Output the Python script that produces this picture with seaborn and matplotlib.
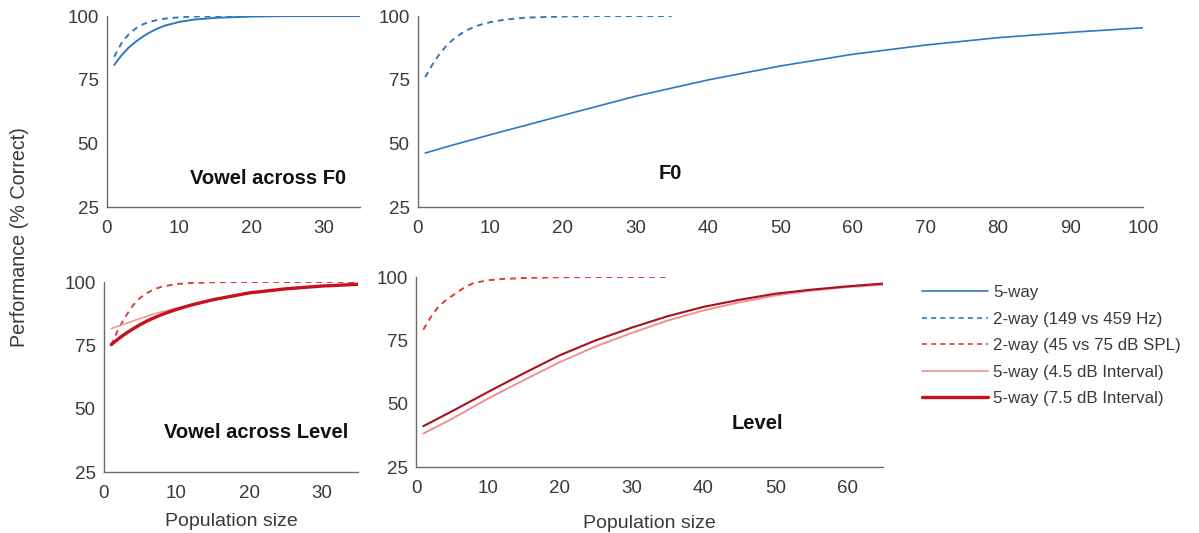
import numpy as np
import pandas as pd
import matplotlib
matplotlib.use("Agg")
import matplotlib.pyplot as plt
import seaborn as sns
from matplotlib.lines import Line2D

sns.set_style("white")
plt.rcParams['font.family'] = ['Liberation Sans', 'DejaVu Sans']

# ---------------- data ----------------
# Panel: Vowel across F0
vf0_x = [1, 2, 3, 4, 5, 6, 7, 8, 10, 12, 15, 20, 25, 30, 35]
vf0_5way = [80.8, 84.5, 87.6, 90.0, 92.0, 93.7, 95.1, 96.2, 97.7, 98.6, 99.3, 99.8, 100, 100, 100]
vf0_2way = [84.0, 89.3, 92.8, 95.2, 96.8, 97.8, 98.5, 99.0, 99.5, 99.8, 99.9, 100, 100, 100, 100]

# Panel: F0
f0_x = [1, 5, 10, 20, 30, 40, 50, 60, 70, 80, 90, 100]
f0_5way = [46.2, 49.5, 53.4, 61.0, 68.5, 74.9, 80.4, 85.0, 88.6, 91.5, 93.6, 95.4]
f0_2x = [1, 2, 3, 4, 5, 6, 7, 8, 9, 10, 12, 15, 20, 25, 30, 35]
f0_2way = [76.0, 81.0, 85.2, 88.6, 91.2, 93.2, 94.8, 96.0, 96.9, 97.6, 98.6, 99.4, 99.8, 100, 100, 100]

# Panel: Vowel across Level
vl_x = [1, 2, 3, 4, 5, 6, 7, 8, 10, 12, 15, 20, 25, 30, 35]
vl_2way = [75.0, 81.5, 86.5, 90.8, 93.8, 95.8, 97.2, 98.2, 99.2, 99.6, 99.9, 100, 100, 100, 100]
vl_45db = [81.6, 82.6, 83.6, 84.6, 85.6, 86.6, 87.5, 88.3, 89.6, 91.0, 93.0, 95.6, 97.3, 98.4, 99.0]
vl_75db = [75.3, 77.6, 79.7, 81.5, 83.2, 84.7, 86.0, 87.2, 89.2, 90.9, 93.0, 95.7, 97.3, 98.4, 99.1]

# Panel: Level
lv_x = [1, 5, 10, 15, 20, 25, 30, 35, 40, 45, 50, 55, 60, 65]
lv_75db = [41.1, 47.0, 54.6, 62.0, 69.1, 75.0, 80.0, 84.5, 88.2, 91.0, 93.4, 95.0, 96.3, 97.4]
lv_45db = [38.2, 44.0, 52.0, 59.3, 66.4, 72.6, 77.9, 82.8, 86.8, 90.0, 92.7, 94.6, 96.0, 96.9]
lv_2x = [1, 2, 3, 4, 5, 6, 7, 8, 10, 12, 15, 20, 25, 30, 35]
lv_2way = [79.2, 84.0, 87.8, 90.5, 92.5, 94.5, 96.3, 97.6, 98.7, 99.2, 99.6, 99.9, 100, 100, 100]

legend_labels = ["5-way", "2-way (149 vs 459 Hz)", "2-way (45 vs 75 dB SPL)",
                 "5-way (4.5 dB Interval)", "5-way (7.5 dB Interval)"]

# ---------------- styles ----------------
BLUE = "#2f78bf"
RED_D = "#e03a3a"
RED_L = "#f09090"
RED_T = "#c8101e"
RED_DK = "#a8101e"
AX_COL = "#6b6b6b"
TXT_COL = "#3a3a3a"

fig = plt.figure(figsize=(11.99, 5.33), dpi=100)

ax1 = fig.add_axes([0.0892, 0.6116, 0.2111, 0.3583])
ax2 = fig.add_axes([0.3486, 0.6116, 0.6047, 0.3583])
ax3 = fig.add_axes([0.0867, 0.1144, 0.2119, 0.3565])
ax4 = fig.add_axes([0.3470, 0.1238, 0.3895, 0.3565])


def line(ax, x, y, color, lw, ls="-"):
    df = pd.DataFrame({"x": x, "y": y})
    sns.lineplot(data=df, x="x", y="y", ax=ax, color=color, lw=lw, linestyle=ls,
                 estimator=None, sort=True)


line(ax1, vf0_x, vf0_5way, BLUE, 1.4)
line(ax1, vf0_x, vf0_2way, BLUE, 1.4, (0, (3, 2.5)))

line(ax2, f0_x, f0_5way, BLUE, 1.2)
line(ax2, f0_2x, f0_2way, BLUE, 1.4, (0, (3, 2.5)))

line(ax3, vl_x, vl_2way, RED_D, 1.4, (0, (3, 2.5)))
line(ax3, vl_x, vl_45db, RED_L, 1.1)
line(ax3, vl_x, vl_75db, RED_T, 2.4)

line(ax4, lv_2x, lv_2way, RED_D, 1.4, (0, (3, 2.5)))
line(ax4, lv_x, lv_45db, RED_L, 1.4)
line(ax4, lv_x, lv_75db, RED_DK, 1.5)

xlims = [(0, 35), (0, 100), (0, 35), (0, 65)]
xticks = [[0, 10, 20, 30], list(range(0, 101, 10)), [0, 10, 20, 30], list(range(0, 61, 10))]
for ax, xl, xt in zip([ax1, ax2, ax3, ax4], xlims, xticks):
    ax.set_xlim(*xl)
    ax.set_ylim(25, 100)
    ax.set_xticks(xt)
    ax.set_yticks([25, 50, 75, 100])
    for s in ["top", "right"]:
        ax.spines[s].set_visible(False)
    for s in ["left", "bottom"]:
        ax.spines[s].set_color(AX_COL)
        ax.spines[s].set_linewidth(1.0)
    ax.tick_params(direction="in", length=4, width=0.9, color=AX_COL,
                   labelsize=13.5, labelcolor=TXT_COL)
    ax.tick_params(axis="x", pad=9)
    ax.tick_params(axis="y", pad=6)
    ax.set_xlabel("")
    ax.set_ylabel("")
    ax.set_facecolor("white")

TITLE_FS = 14.5
ax1.text(0.636, 0.15, "Vowel across F0", transform=ax1.transAxes, ha="center",
         va="center", fontsize=TITLE_FS, fontweight="bold", color="#111111")
ax2.text(0.348, 0.178, "F0", transform=ax2.transAxes, ha="center",
         va="center", fontsize=TITLE_FS, fontweight="bold", color="#111111")
ax3.text(0.598, 0.21, "Vowel across Level", transform=ax3.transAxes, ha="center",
         va="center", fontsize=TITLE_FS, fontweight="bold", color="#111111")
ax4.text(0.73, 0.23, "Level", transform=ax4.transAxes, ha="center",
         va="center", fontsize=TITLE_FS, fontweight="bold", color="#111111")

ax3.set_xlabel("Population size", fontsize=14, color=TXT_COL, labelpad=8)
ax4.set_xlabel("Population size", fontsize=14, color=TXT_COL, labelpad=13)

fig.text(0.016, 0.555, "Performance (% Correct)", rotation=90, ha="center",
         va="center", fontsize=14.2, color=TXT_COL)

handles = [
    Line2D([], [], color=BLUE, lw=1.2),
    Line2D([], [], color=BLUE, lw=1.2, ls=(0, (3, 2.5))),
    Line2D([], [], color=RED_D, lw=1.2, ls=(0, (3, 2.5))),
    Line2D([], [], color=RED_L, lw=1.2),
    Line2D([], [], color=RED_T, lw=2.4),
]
leg = fig.legend(handles, legend_labels, loc="upper left",
                 bbox_to_anchor=(0.763, 0.478), frameon=False, fontsize=12.2,
                 handlelength=3.9, handletextpad=0.3, labelspacing=0.68,
                 borderaxespad=0)
for t in leg.get_texts():
    t.set_color(TXT_COL)

fig.savefig("out.png", dpi=100, facecolor="white")
